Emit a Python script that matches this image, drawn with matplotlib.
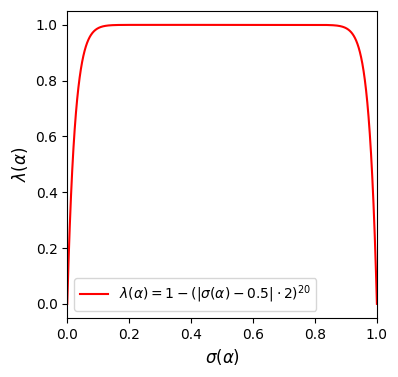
import matplotlib
matplotlib.use("Agg")
import matplotlib.pyplot as plt
import numpy as np

# curve as stated in the legend: lambda = 1 - (|sigma - 0.5| * 2)^20
CENTER = 0.5
SCALE = 2
POWER = 20
sigma = np.linspace(0, 1, 1001)
lam = 1 - (np.abs(sigma - CENTER) * SCALE) ** POWER

fig = plt.figure(figsize=(3.98, 3.77), dpi=100)
ax = fig.add_axes([0.169, 0.157, 0.778, 0.814])
ax.plot(sigma, lam, color="red", lw=1.5,
        label=r"$\lambda(\alpha) = 1 - (|\sigma(\alpha) - 0.5| \cdot 2)^{20}$")
ax.set_xlim(0, 1)
ax.set_ylim(-0.05, 1.05)
ax.set_xlabel(r"$\sigma(\alpha)$", fontsize=12)
ax.set_ylabel(r"$\lambda(\alpha)$", fontsize=12)
ax.legend(loc="lower left")
fig.savefig("out.png", dpi=100)
